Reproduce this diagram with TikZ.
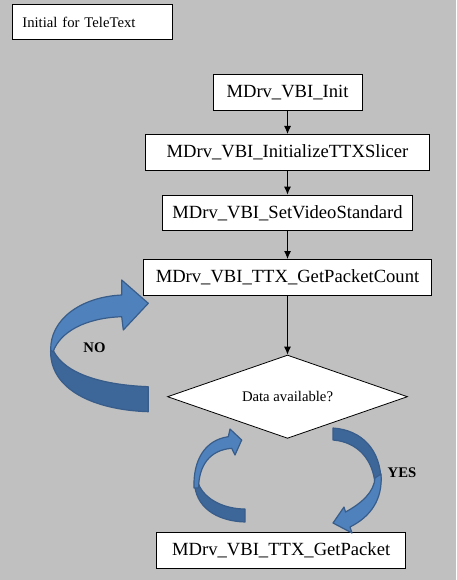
\documentclass[tikz,border=0pt]{standalone}
\usepackage{fontspec}
\setmainfont{Liberation Serif}
\usepackage{tikz}
\usetikzlibrary{shapes.geometric, arrows.meta, positioning}
\definecolor{wdgray}{RGB}{192,192,192}
\definecolor{wdblue}{RGB}{79,129,189}
\definecolor{wddark}{RGB}{61,102,153}
\definecolor{wdline}{RGB}{56,93,138}

\tikzset{
  proc/.style={draw=black, fill=white, line width=0.8pt, inner sep=0pt,
    minimum height=35.6pt, font=\fontsize{18.6}{21}\selectfont},
  decision/.style={diamond, aspect=2.88, draw=black, fill=white, line width=0.8pt, inner sep=0pt,
    minimum width=240pt, minimum height=83.3pt, font=\fontsize{14.7}{17}\selectfont},
  flow/.style={line width=0.9pt, -{Latex[length=8pt,width=7pt]}},
  bandlight/.style={fill=wdblue, draw=wdline, line width=1.2pt, line join=round},
  banddark/.style={fill=wddark, draw=wdline, line width=1.2pt, line join=round},
  lbl/.style={font=\fontsize{14.7}{17}\selectfont\bfseries}
}

\begin{document}
\begin{tikzpicture}[x=1pt, y=-1pt]
% page
\fill[wdgray] (0,0) rectangle (456,580);
\useasboundingbox (0,0) rectangle (456,580);

% title
\node[proc, anchor=north west, minimum height=35pt, inner xsep=10pt, text width=140pt,
  align=left, font=\fontsize{14.7}{17}\selectfont] (title) at (12,4) {Initial for TeleText};

% init chain
\node[proc, minimum width=149pt] (init) at (287.5,92.3) {MDrv\_VBI\_Init};
\node[proc, minimum width=284pt] (slicer) at (287.5,152.2) {MDrv\_VBI\_InitializeTTXSlicer};
\node[proc, minimum width=250pt] (vstd) at (287.5,212.8) {MDrv\_VBI\_SetVideoStandard};
\node[proc, minimum width=288pt] (count) at (287.5,277.2) {MDrv\_VBI\_TTX\_GetPacketCount};
\node[decision] (avail) at (287.5,396.7) {Data available?};
\node[proc, minimum width=249pt] (packet) at (281.2,550.3) {MDrv\_VBI\_TTX\_GetPacket};

\draw[flow] (init) -- (slicer);
\draw[flow] (slicer) -- (vstd);
\draw[flow] (vstd) -- (count);
\draw[flow] (count.south) -- (avail.north);

% NO loop back to count
\draw[banddark] (50.7,348) .. controls (48,390) and (95,410) .. (148.3,411.7)
  -- (148.3,386.7) .. controls (105,385) and (65,375) .. (53,350) -- cycle;
\draw[bandlight] (50.7,350) .. controls (50,320) and (80,297) .. (121.7,295)
  -- (121.7,280) -- (148.3,303.3) -- (123.3,330) -- (121.7,316.7)
  .. controls (85,318) and (60,332) .. (53,352) -- cycle;
\node[lbl] (no) at (94.5,348) {NO};

% YES loop to packet
\draw[banddark] (333,428) .. controls (362,430) and (381,450) .. (381,482)
  -- (375,484) .. controls (373,460) and (358,442) .. (333,440) -- cycle;
\draw[bandlight] (381,474) .. controls (383,500) and (370,517) .. (350,527)
  -- (352,533) -- (333,523) -- (344,507) -- (345.5,512)
  .. controls (362,503) and (374,492) .. (375,478) -- cycle;
\node[lbl] (yes) at (402,473) {YES};

% packet back to avail
\draw[banddark] (194.5,482) .. controls (195,506) and (215,521) .. (245,522)
  -- (245,509) .. controls (225,509) and (205,500) .. (198.5,484) -- cycle;
\draw[bandlight] (194,488) .. controls (193,460) and (205,440) .. (228.3,436.7)
  -- (230,429) -- (241.7,440) -- (235,455) -- (231.7,448.3)
  .. controls (210,450) and (199,465) .. (198.5,488) -- cycle;
\end{tikzpicture}
\end{document}
